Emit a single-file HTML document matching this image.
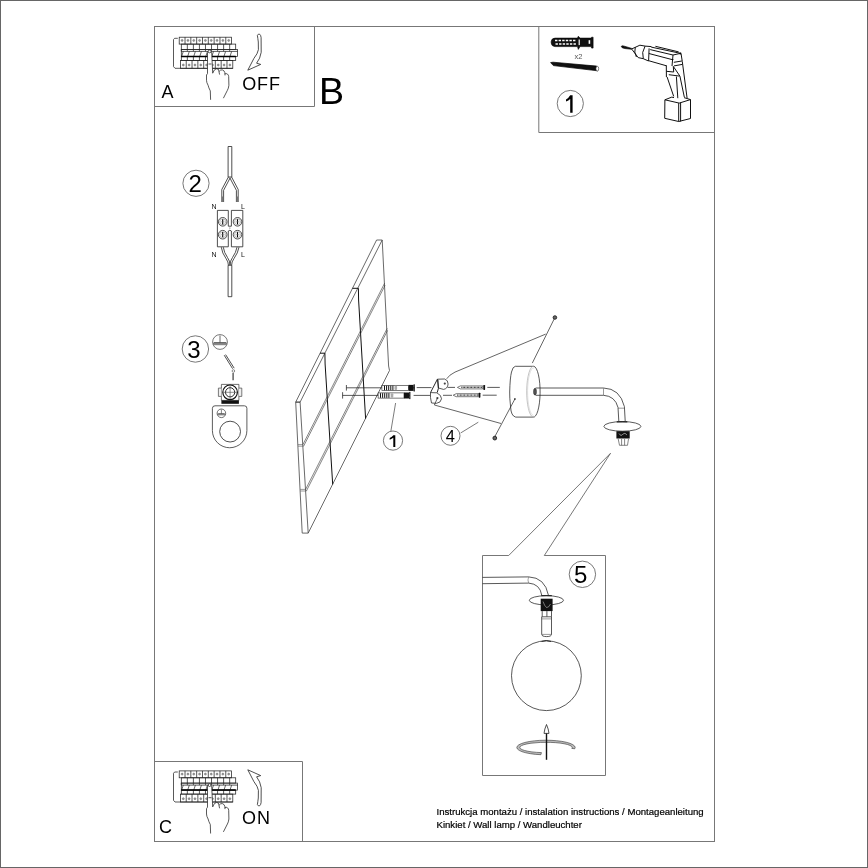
<!DOCTYPE html>
<html><head><meta charset="utf-8">
<style>
html,body{margin:0;padding:0;background:#fff;}
body{width:868px;height:868px;overflow:hidden;}
svg{display:block;font-family:"Liberation Sans",sans-serif;will-change:transform;-webkit-font-smoothing:antialiased;}
.f{fill:none;stroke:#777;stroke-width:1;}
.l{fill:none;stroke:#222;stroke-width:0.8;}
.g{fill:none;stroke:#555;stroke-width:0.8;}
.t{fill:#000;}
</style></head><body>
<svg width="868" height="868" viewBox="0 0 868 868">
<rect x="0.5" y="0.5" width="867" height="867" fill="#fff" stroke="#666" stroke-width="1"/>
<rect class="f" x="154.5" y="26.5" width="560" height="815"/>
<path class="f" d="M154.5 106.5H314.5V26.5"/>
<path class="f" d="M538.8 26.5V132.5H714.5"/>
<path class="f" d="M154.5 761.5H302.5V841.5"/>
<path class="f" d="M508.7 555.5H482.5V775.5H605.5V555.5H544.3"/>
<path class="g" d="M508.7 555.5L610.5 453.3L544.3 555.5"/>
<g fill="none" stroke="#222" stroke-width="0.75"><path d="M177.8 38.3H174.6L173.5 39.6V66.6L175 68.3H232.8"/><rect x="179.2" y="37.2" width="52.4" height="6.9"/><path d="M185.02 37.2V44.1M190.84 37.2V44.1M196.67 37.2V44.1M202.49 37.2V44.1M208.31 37.2V44.1M214.13 37.2V44.1M219.96 37.2V44.1M225.78 37.2V44.1"/><rect x="181.3" y="44.1" width="54.4" height="5.3"/><path d="M187.34 44.1V49.4M193.39 44.1V49.4M199.43 44.1V49.4M205.48 44.1V49.4M211.52 44.1V49.4M217.57 44.1V49.4M223.61 44.1V49.4M229.66 44.1V49.4"/><rect x="181.3" y="49.4" width="56.3" height="7"/><path d="M181.3 51.4H237.6"/><path d="M181.7 56.2L183.3 51.4M181.3 51.4V49.4M187.74 56.2L189.34 51.4M187.34 51.4V49.4M193.79 56.2L195.39 51.4M193.39 51.4V49.4M199.83 56.2L201.43 51.4M199.43 51.4V49.4M205.88 56.2L207.48 51.4M205.48 51.4V49.4M211.92 56.2L213.52 51.4M211.52 51.4V49.4M217.97 56.2L219.57 51.4M217.57 51.4V49.4M224.01 56.2L225.61 51.4M223.61 51.4V49.4M230.06 56.2L231.66 51.4M229.66 51.4V49.4" stroke-width="0.7"/><rect x="181.3" y="56.4" width="54.4" height="4"/><path d="M187.34 56.4V60.4M193.39 56.4V60.4M199.43 56.4V60.4M205.48 56.4V60.4M211.52 56.4V60.4M217.57 56.4V60.4M223.61 56.4V60.4M229.66 56.4V60.4"/><path d="M181.3 56.4H235.7" stroke="#000" stroke-width="1.5"/><rect x="180.4" y="60.4" width="52.4" height="7.9"/><path d="M186.22 60.4V68.3M192.04 60.4V68.3M197.87 60.4V68.3M203.69 60.4V68.3M209.51 60.4V68.3M215.33 60.4V68.3M221.16 60.4V68.3M226.98 60.4V68.3"/><g fill="#999" stroke="#666" stroke-width="0.5"><circle cx="182.11" cy="40.4" r="1"/><circle cx="183.31" cy="65" r="1"/><circle cx="187.93" cy="40.4" r="1"/><circle cx="189.13" cy="65" r="1"/><circle cx="193.76" cy="40.4" r="1"/><circle cx="194.96" cy="65" r="1"/><circle cx="199.58" cy="40.4" r="1"/><circle cx="200.78" cy="65" r="1"/><circle cx="205.4" cy="40.4" r="1"/><circle cx="206.6" cy="65" r="1"/><circle cx="211.22" cy="40.4" r="1"/><circle cx="212.42" cy="65" r="1"/><circle cx="217.04" cy="40.4" r="1"/><circle cx="218.24" cy="65" r="1"/><circle cx="222.87" cy="40.4" r="1"/><circle cx="224.07" cy="65" r="1"/><circle cx="228.69" cy="40.4" r="1"/><circle cx="229.89" cy="65" r="1"/></g><path d="M207.5 73.5L207.5 52.6Q209.6 49.6 211.7 52.6L212.7 73.2Q214 69.5 216.5 69.1Q218.7 69.3 219.3 74.2Q220.3 70.2 222.4 70.1Q224 70.6 224.6 75Q225.9 73.6 227 74Q228.6 74.6 228.7 76.5L228.9 85.3Q228.5 88.5 227.4 90.3L223.4 98.2L210.6 99.8L210.3 90.9Q208.6 87.6 208.1 85.3Q206.5 82.5 206.5 80.3L206.5 75Z" fill="#fff" stroke="none"/><path d="M207.5 73.5L207.5 52.6Q209.6 49.6 211.7 52.6L212.7 73.2L214.3 70Q216.5 67.8 218.5 69.4L219.6 74.6M219.2 71.4Q220.5 69.5 222.4 69.9Q224.3 70.5 224.8 72.5L225 75.4M224.9 73.9Q226.3 73.2 227.5 74.1Q228.6 75 228.7 76.6L228.9 85.3Q228.5 88.5 227.4 90.3L223.4 98.2M210.6 99.8L210.3 90.9Q208.6 87.6 208.1 85.3Q206.5 82.5 206.5 80.3L206.5 75L207.5 73.5M208.5 64H211.5"/><circle cx="209.6" cy="51.4" r="1.4" fill="#fff"/></g>
<g fill="none" stroke="#222" stroke-width="0.75" transform="translate(0 733.7)"><path d="M177.8 38.3H174.6L173.5 39.6V66.6L175 68.3H232.8"/><rect x="179.2" y="37.2" width="52.4" height="6.9"/><path d="M185.02 37.2V44.1M190.84 37.2V44.1M196.67 37.2V44.1M202.49 37.2V44.1M208.31 37.2V44.1M214.13 37.2V44.1M219.96 37.2V44.1M225.78 37.2V44.1"/><rect x="181.3" y="44.1" width="54.4" height="5.3"/><path d="M187.34 44.1V49.4M193.39 44.1V49.4M199.43 44.1V49.4M205.48 44.1V49.4M211.52 44.1V49.4M217.57 44.1V49.4M223.61 44.1V49.4M229.66 44.1V49.4"/><rect x="181.3" y="49.4" width="56.3" height="7"/><path d="M181.3 51.4H237.6"/><path d="M181.7 56.2L183.3 51.4M181.3 51.4V49.4M187.74 56.2L189.34 51.4M187.34 51.4V49.4M193.79 56.2L195.39 51.4M193.39 51.4V49.4M199.83 56.2L201.43 51.4M199.43 51.4V49.4M205.88 56.2L207.48 51.4M205.48 51.4V49.4M211.92 56.2L213.52 51.4M211.52 51.4V49.4M217.97 56.2L219.57 51.4M217.57 51.4V49.4M224.01 56.2L225.61 51.4M223.61 51.4V49.4M230.06 56.2L231.66 51.4M229.66 51.4V49.4" stroke-width="0.7"/><rect x="181.3" y="56.4" width="54.4" height="4"/><path d="M187.34 56.4V60.4M193.39 56.4V60.4M199.43 56.4V60.4M205.48 56.4V60.4M211.52 56.4V60.4M217.57 56.4V60.4M223.61 56.4V60.4M229.66 56.4V60.4"/><path d="M181.3 56.4H235.7" stroke="#000" stroke-width="1.5"/><rect x="180.4" y="60.4" width="52.4" height="7.9"/><path d="M186.22 60.4V68.3M192.04 60.4V68.3M197.87 60.4V68.3M203.69 60.4V68.3M209.51 60.4V68.3M215.33 60.4V68.3M221.16 60.4V68.3M226.98 60.4V68.3"/><g fill="#999" stroke="#666" stroke-width="0.5"><circle cx="182.11" cy="40.4" r="1"/><circle cx="183.31" cy="65" r="1"/><circle cx="187.93" cy="40.4" r="1"/><circle cx="189.13" cy="65" r="1"/><circle cx="193.76" cy="40.4" r="1"/><circle cx="194.96" cy="65" r="1"/><circle cx="199.58" cy="40.4" r="1"/><circle cx="200.78" cy="65" r="1"/><circle cx="205.4" cy="40.4" r="1"/><circle cx="206.6" cy="65" r="1"/><circle cx="211.22" cy="40.4" r="1"/><circle cx="212.42" cy="65" r="1"/><circle cx="217.04" cy="40.4" r="1"/><circle cx="218.24" cy="65" r="1"/><circle cx="222.87" cy="40.4" r="1"/><circle cx="224.07" cy="65" r="1"/><circle cx="228.69" cy="40.4" r="1"/><circle cx="229.89" cy="65" r="1"/></g><path d="M207.5 73.5L207.5 52.6Q209.6 49.6 211.7 52.6L212.7 73.2Q214 69.5 216.5 69.1Q218.7 69.3 219.3 74.2Q220.3 70.2 222.4 70.1Q224 70.6 224.6 75Q225.9 73.6 227 74Q228.6 74.6 228.7 76.5L228.9 85.3Q228.5 88.5 227.4 90.3L223.4 98.2L210.6 99.8L210.3 90.9Q208.6 87.6 208.1 85.3Q206.5 82.5 206.5 80.3L206.5 75Z" fill="#fff" stroke="none"/><path d="M207.5 73.5L207.5 52.6Q209.6 49.6 211.7 52.6L212.7 73.2L214.3 70Q216.5 67.8 218.5 69.4L219.6 74.6M219.2 71.4Q220.5 69.5 222.4 69.9Q224.3 70.5 224.8 72.5L225 75.4M224.9 73.9Q226.3 73.2 227.5 74.1Q228.6 75 228.7 76.6L228.9 85.3Q228.5 88.5 227.4 90.3L223.4 98.2M210.6 99.8L210.3 90.9Q208.6 87.6 208.1 85.3Q206.5 82.5 206.5 80.3L206.5 75L207.5 73.5M208.5 64H211.5"/><circle cx="209.6" cy="51.4" r="1.4" fill="#fff"/></g>
<g fill="#fff" stroke="#222" stroke-width="0.8"><path d="M257.4 35.4Q258.2 33.6 259.6 34.2Q260.8 35 261.1 37.5L261.2 52.3Q260.3 58.5 256.6 63.2L260.7 64.4L247.8 70.2L253.9 58.4Q257.8 53.5 258.4 49.7L258.3 42Q257.8 38 257.4 35.4Z"/><path transform="translate(0 840) scale(1 -1)" d="M257.4 35.4Q258.2 33.6 259.6 34.2Q260.8 35 261.1 37.5L261.2 52.3Q260.3 58.5 256.6 63.2L260.7 64.4L247.8 70.2L253.9 58.4Q257.8 53.5 258.4 49.7L258.3 42Q257.8 38 257.4 35.4Z"/></g>
<text class="t" x="161.4" y="97.8" font-size="18">A</text>
<text class="t" x="242.3" y="90.4" font-size="18" letter-spacing="0.8">OFF</text>
<text class="t" x="319" y="104" font-size="37.6">B</text>
<text class="t" x="159" y="832.8" font-size="18">C</text>
<text class="t" x="242" y="824.4" font-size="18" letter-spacing="1">ON</text>
<g class="g"><circle cx="570.3" cy="103.5" r="13.1"/><circle cx="196" cy="183.3" r="13.1"/><circle cx="195.4" cy="349" r="13.2"/><circle cx="582.4" cy="574.3" r="13.2"/><circle cx="393" cy="440.6" r="9.6"/><circle cx="450.5" cy="435.8" r="9.5"/></g>
<path class="t" d="M570.2 95.3H572.6V112.8H570.2V98.9Q568.6 100.6 566 101.6V99.4Q568.8 98 570.2 95.3Z"/>
<path class="t" d="M393.3 435.3H395.3V446.9H393.3V437.7Q392 438.9 389.7 439.7V438Q392.2 436.8 393.3 435.3Z"/>
<g class="t" font-size="24" text-anchor="middle"><text x="195.2" y="191.6">2</text><text x="193.9" y="357.7">3</text><text x="580.8" y="583.3">5</text></g>
<text class="t" x="450.3" y="442" font-size="16.5" text-anchor="middle">4</text>
<g class="t" font-size="9.6" stroke="#000" stroke-width="0.2"><text x="436.5" y="815">Instrukcja montażu / instalation instructions / Montageanleitung</text><text x="436.5" y="827.6">Kinkiet / Wall lamp / Wandleuchter</text></g>
<g><path d="M551.2 41.5Q551.5 38.3 555 38.1H577.5L578.3 36.2L580 38.1H591.2L591.6 37.2H593.1V48.1H591.6L591.2 46.6H580L578.3 49.4L577.5 46.6H555Q551.5 46.3 551.2 43Z" fill="#111" stroke="#000" stroke-width="0.6"/><path d="M555.0 40.5h2.4M555.5 44.1h2.4M558.6 40.5h2.4M559.1 44.1h2.4M562.2 40.5h2.4M562.7 44.1h2.4M565.8 40.5h2.4M566.3 44.1h2.4M569.4 40.5h2.4M569.9 44.1h2.4M573.0 40.5h2.4M573.5 44.1h2.4" stroke="#fff" stroke-width="1.5"/><rect x="578.6" y="39.5" width="1.2" height="5.6" fill="#fff"/><rect x="588.6" y="40.2" width="1.6" height="3.6" fill="#fff"/></g><text x="574.6" y="58.8" font-size="7.5" fill="#555">x2</text><path d="M550.6 62.6L553 62.2L596.8 66.1L597.6 70.8L553.4 65.6Z" fill="#111" stroke="#000" stroke-width="0.7"/><ellipse cx="597.3" cy="68.7" rx="1.4" ry="2.4" fill="#fff" stroke="#333" stroke-width="0.6"/><path d="M621.2 46.4Q622 45.2 624.5 46.2L631.8 48.4L631.6 49.3L624.5 48.5Q621.5 48 621.2 46.4Z" fill="#111" stroke="#000" stroke-width="0.6"/><path d="M631.8 48.9L639.9 45.2L645.1 46.1L651.4 46.6M631.8 49.2L638.2 57.6L643.3 58.7L648.5 61M635.3 47.2Q633.8 52 636.4 57M645.1 46.1Q641.2 52.4 643.3 58.7M649.1 48.4L648.6 61M651.2 47.1L680.8 53.4M655.4 46.3L678.7 51.9M650.2 49.6L673 55L680.8 53.3M648.9 53.5L672.5 59.7M648.6 60.7L666.8 65.9M673 55L672 66M681.1 54L682.3 61.6L687.1 98.2M673.8 62.3L681.9 61M674 65.9L682.3 64.4M666.3 65.7L666.4 77M666.4 71.3L673.7 72L673.3 66.4M668.8 74.7L679.6 76.1M667.1 77L673.7 96.4M676.4 76.5L677.8 98.2M673.3 66.4L679.9 76.1L684.3 97M664.9 99.8L664.7 118.3L678.7 121.5L690.5 118.5L690.5 99.6L679.2 103.1ZM664.9 99.8L671.8 97.1L674 97.6M684 97.6L690.5 99.6M678.7 103.1V121.5M680.6 102.6V121.5" fill="none" stroke="#111" stroke-width="1"/><circle cx="680.4" cy="53.5" r="1.1" fill="#000"/><circle cx="672.8" cy="59.6" r="0.7" fill="#000"/>
<path d="M228.1 146.5H231.8V177H228.1Z" fill="none" stroke="#222" stroke-width="0.8"/><path d="M228.4 177L221.8 189.5V202M230.2 177.8L223.6 190.3V202" fill="none" stroke="#222" stroke-width="0.8"/><path d="M231.6 177L238.2 189.5V202M229.8 177.8L236.4 190.3V202" fill="none" stroke="#222" stroke-width="0.8"/><path d="M222.6 196.5V202M237.3 196.5V202" stroke="#777" stroke-width="1.4"/><g font-size="7" fill="#111"><text x="211.6" y="208.6">N</text><text x="240.9" y="208.6">L</text><text x="211.6" y="256.9">N</text><text x="240.9" y="256.9">L</text></g><path d="M217.4 210.4H228.3V226.2H231.4V210.4H242.8V246.8H231.4V231Q229.85 229.5 228.3 231V246.8H217.4Z" fill="none" stroke="#222" stroke-width="0.8"/><circle cx="229.85" cy="228.1" r="0.5" fill="#333"/><circle cx="222.7" cy="221.8" r="4.3" fill="#fff" stroke="#222" stroke-width="0.8"/><circle cx="222.7" cy="221.8" r="3" fill="none" stroke="#777" stroke-width="0.5"/><path d="M222.7 219.20000000000002V224.4" stroke="#000" stroke-width="1.1"/><path d="M220.7 221.8H224.7" stroke="#777" stroke-width="0.5"/><circle cx="222.7" cy="234.7" r="4.3" fill="#fff" stroke="#222" stroke-width="0.8"/><circle cx="222.7" cy="234.7" r="3" fill="none" stroke="#777" stroke-width="0.5"/><path d="M222.7 232.1V237.29999999999998" stroke="#000" stroke-width="1.1"/><path d="M220.7 234.7H224.7" stroke="#777" stroke-width="0.5"/><circle cx="237.5" cy="221.8" r="4.3" fill="#fff" stroke="#222" stroke-width="0.8"/><circle cx="237.5" cy="221.8" r="3" fill="none" stroke="#777" stroke-width="0.5"/><path d="M237.5 219.20000000000002V224.4" stroke="#000" stroke-width="1.1"/><path d="M235.5 221.8H239.5" stroke="#777" stroke-width="0.5"/><circle cx="237.5" cy="234.7" r="4.3" fill="#fff" stroke="#222" stroke-width="0.8"/><circle cx="237.5" cy="234.7" r="3" fill="none" stroke="#777" stroke-width="0.5"/><path d="M237.5 232.1V237.29999999999998" stroke="#000" stroke-width="1.1"/><path d="M235.5 234.7H239.5" stroke="#777" stroke-width="0.5"/><path d="M221.3 247.2Q222 253 226 258.5Q228.5 262 228.4 265.3M223.3 247.2Q224 252.5 227.5 257.5Q230 261 230 265" fill="none" stroke="#222" stroke-width="0.8"/><path d="M239 247.2Q238 253 234 258.5Q231.5 262 231.6 265.3M237 247.2Q236 252.5 232.5 257.5Q230 261 230 265" fill="none" stroke="#222" stroke-width="0.8"/><path d="M228.1 265.3H231.8V296.7H228.1Z" fill="none" stroke="#222" stroke-width="0.8"/><clipPath id="gc"><circle cx="220" cy="342" r="7.3"/></clipPath><rect x="212" y="342.6" width="16" height="2.6" fill="#888" clip-path="url(#gc)"/><circle cx="220" cy="342" r="7.4" fill="none" stroke="#555" stroke-width="0.8"/><path d="M220 335.5V342.6M214 342.6H226" stroke="#444" stroke-width="0.8"/><path d="M224.2 355.2L232.6 368.7M225.6 354.6L234.2 368.2" fill="none" stroke="#222" stroke-width="0.8"/><circle cx="233.4" cy="371" r="1.3" fill="#fff" stroke="#444" stroke-width="0.6"/><path d="M233.1 373V380.3" stroke="#555" stroke-width="1.4"/><path d="M221.4 384.4H238.9V400.4H221.4Z" fill="#fff" stroke="#333" stroke-width="0.7"/><path d="M221.4 388.1H218.4V396.4H221.4M238.9 388.1H241.8V396.4H238.9" fill="#eee" stroke="#444" stroke-width="0.7"/><circle cx="230.1" cy="392.3" r="7.3" fill="#fff" stroke="#111" stroke-width="1.2"/><circle cx="230.1" cy="392.3" r="4.6" fill="none" stroke="#111" stroke-width="0.9"/><path d="M230.1 385.6V399M223.4 392.3H236.8" stroke="#444" stroke-width="0.6"/><rect x="221.4" y="400.4" width="17.5" height="3.4" fill="#111"/><path d="M212.4 408.3Q212.4 405.8 215 405.8H244.4Q246.9 405.8 246.9 408.3V430.5A17.25 17.25 0 0 1 212.4 430.5Z" fill="#fff" stroke="#333" stroke-width="0.8"/><circle cx="230.1" cy="431.6" r="10.4" fill="#fff" stroke="#222" stroke-width="0.8"/><clipPath id="gc2"><circle cx="221.4" cy="413.3" r="4.2"/></clipPath><rect x="216" y="413.6" width="11" height="1.8" fill="#888" clip-path="url(#gc2)"/><circle cx="221.4" cy="413.3" r="4.3" fill="none" stroke="#333" stroke-width="0.7"/><path d="M221.4 409.5V413.6M218.2 413.6H224.6" stroke="#333" stroke-width="0.6"/>
<path d="M376.6 240H382.2L388.6 366L389.5 370.5L308.2 533.1H302.2L295.7 402.1L376.6 240Z" fill="#fff" stroke="#444" stroke-width="0.8"/><path d="M382.2 240L300.1 402.1L308.2 533.1" fill="none" stroke="#444" stroke-width="0.8"/><path d="M352.4 288.3H358.4M320 353.2H324.9M295.7 402.1H300.1" fill="none" stroke="#111" stroke-width="1"/><path d="M358.4 288.3L358.6 300L365.6 418.6M324.9 353.2L325.1 364L332.7 484.4" fill="none" stroke="#111" stroke-width="1"/><path d="M384.6 283.2L302.9 444.6M385.1 285.2L303.6 446.2M387.2 328.4L305.6 489.4M387.6 330.4L306.4 491" fill="none" stroke="#333" stroke-width="0.6"/><path d="M297.9 444.6H302.9M298 446.2H303.6M300.2 489.4H305.6M300.3 491H306.4" fill="none" stroke="#555" stroke-width="0.6"/><path d="M346.4 387.8H414.8M346.4 385V390.6M342.6 395.4H409.8M342.6 392.2V398.6" fill="none" stroke="#222" stroke-width="0.75"/><path d="M416.7 387.6H431.5M413.6 395.4H430" fill="none" stroke="#222" stroke-width="0.75"/><rect x="381.9" y="385.29999999999995" width="26.600000000000023" height="5.2" fill="#fff" stroke="#222" stroke-width="0.6"/><path d="M384.5 385.6V390.2M386.6 385.6V390.2M388.7 385.6V390.2M390.8 385.6V390.2M392.9 385.6V390.2" stroke="#111" stroke-width="1"/><rect x="394.5" y="385.7" width="2.6" height="4.4" rx="1" fill="#aaa"/><rect x="408.5" y="384.9" width="5.100000000000011" height="6" fill="#111"/><rect x="413.6" y="384.29999999999995" width="1.2" height="7.2" fill="#111"/><rect x="378.1" y="392.9" width="25.899999999999977" height="5.2" fill="#fff" stroke="#222" stroke-width="0.6"/><path d="M380.5 393.2V397.8M382.6 393.2V397.8M384.7 393.2V397.8M386.8 393.2V397.8M388.9 393.2V397.8" stroke="#111" stroke-width="1"/><rect x="390.7" y="393.3" width="2.6" height="4.4" rx="1" fill="#aaa"/><rect x="404.0" y="392.5" width="5.199999999999977" height="6" fill="#111"/><rect x="409.2" y="391.9" width="1.2" height="7.2" fill="#111"/><path d="M395.6 403L390.9 431" fill="none" stroke="#444" stroke-width="0.7"/><path d="M437.4 379.2L444.6 379Q448.2 380 448.1 384Q447.6 388.8 443.5 389.4L438.4 388Z" fill="#fff" stroke="#222" stroke-width="0.75"/><path d="M430.5 392.6L436.8 392.8Q441.6 395.2 441.5 398.8Q441 402.8 436.5 403.3L431.5 403L430.5 397.6Z" fill="#fff" stroke="#222" stroke-width="0.75"/><path d="M437.4 379.2L430.5 392.6M437.9 379.7L438.4 388.4L437.2 392.6" fill="none" stroke="#111" stroke-width="0.9"/><circle cx="444.8" cy="383.6" r="1.1" fill="#444"/><circle cx="437.4" cy="398.1" r="1.1" fill="#444"/><path d="M447.6 387.4H455M443 395.3H452" fill="none" stroke="#222" stroke-width="0.75"/><path d="M457.4 387.4L460.4 385.9H482.8V388.9H460.4Z" fill="#fff" stroke="#222" stroke-width="0.6"/><path d="M461.4 387.4H482.3" stroke="#222" stroke-width="1.2" stroke-dasharray="0.8 0.6"/><rect x="483.3" y="384.9" width="1.8" height="5" rx="0.6" fill="#111"/><path d="M453.2 395.2L456.2 393.7H478.1V396.7H456.2Z" fill="#fff" stroke="#222" stroke-width="0.6"/><path d="M457.2 395.2H477.6" stroke="#222" stroke-width="1.2" stroke-dasharray="0.8 0.6"/><rect x="478.6" y="392.7" width="1.8" height="5" rx="0.6" fill="#111"/><path d="M487.3 387.4H499.8M482.7 395.2H496.7" fill="none" stroke="#222" stroke-width="0.75"/><path d="M515.3 366.3H533.9A6.6 25.4 0 0 1 533.1 417.1H515.7Q511 416 510.6 407Q509.5 397 509.7 392Q510 378 511.5 372Q512.8 366.5 515.3 366.3Z" fill="#fff" stroke="#222" stroke-width="0.75"/><path d="M533.9 366.3A6.8 25.4 0 0 0 533.1 417.1" fill="none" stroke="#aaa" stroke-width="0.7"/><path d="M533.9 368A6 23.5 0 0 0 533.4 415.5" fill="none" stroke="#ccc" stroke-width="0.6"/><circle cx="514.9" cy="399" r="0.9" fill="#444"/><path d="M446.7 378.8Q449 375 455 372.1L545.7 334.1M434.4 405L501 423.5M554.9 317.5L532.3 363.1M514.9 399L493.8 438.5" fill="none" stroke="#222" stroke-width="0.7"/><path d="M437.4 398.1L434.4 405" fill="none" stroke="#222" stroke-width="0.7"/><circle cx="554.9" cy="317.5" r="1.8" fill="#666" stroke="#111" stroke-width="0.8"/><circle cx="494.8" cy="438.1" r="1.9" fill="#666" stroke="#111" stroke-width="0.8"/><path d="M478.3 422.2L460.6 433" fill="none" stroke="#444" stroke-width="0.7"/><path d="M535.6 388H603.5Q620 388.5 624.4 406.6L625.2 421M535.6 395.3H603.5Q615 396 618 407.4L618.8 421" fill="none" stroke="#222" stroke-width="0.75"/><path d="M603.5 388.3V395.2M618 408.2H624.5" fill="none" stroke="#555" stroke-width="0.6"/><ellipse cx="535" cy="391.7" rx="1.4" ry="3.4" fill="#555" stroke="#222" stroke-width="0.6"/><ellipse cx="622.4" cy="426.4" rx="18.5" ry="4.8" fill="#fff" stroke="#222" stroke-width="0.75"/><path d="M616.8 421.8H627.3" stroke="#222" stroke-width="1.3"/><rect x="616.4" y="431.2" width="13.3" height="7.3" fill="#111"/><path d="M619 433.5Q621 437 623 434Q625 432 627 435" stroke="#fff" stroke-width="0.5" fill="none"/><path d="M618.2 438.9L619.5 445.3H627.5L628.5 438.9M621.6 439V445.3M624.6 439V445.3" fill="#fff" stroke="#333" stroke-width="0.6"/>
<path d="M482.5 577.4L528.7 576.9Q545 577.5 548.4 595.1M482.5 583.7L528.7 583.1Q540 584 541.7 595.1" fill="none" stroke="#222" stroke-width="0.75"/><path d="M528.7 576.9Q527.2 580 528.7 583.1" fill="none" stroke="#666" stroke-width="0.6"/><ellipse cx="546.4" cy="600.3" rx="17.1" ry="4.6" fill="#fff" stroke="#222" stroke-width="0.75"/><path d="M541.2 595.6H551.8" stroke="#222" stroke-width="1.1"/><rect x="540.7" y="598.7" width="11.9" height="12.4" fill="#111"/><path d="M543 601.5Q544.5 606 546.5 607.5Q548.5 608 550.5 604" stroke="#ddd" stroke-width="0.5" fill="none"/><path d="M542.2 611.1V616.8M551.5 611.1V616.8M546.9 611.1V616.8" fill="none" stroke="#222" stroke-width="0.75"/><path d="M541.7 616.8H551.5V634.2Q551.5 636.6 546.6 636.6Q541.7 636.6 541.7 634.2Z" fill="#fff" stroke="#222" stroke-width="0.75"/><path d="M541.7 618.9H551.5M542 634.4H551.2" fill="none" stroke="#555" stroke-width="0.6"/><circle cx="546.4" cy="675.7" r="34.9" fill="#fff" stroke="#222" stroke-width="0.75"/><path d="M541.5 641.4Q546.2 639.8 551 641.4" stroke="#222" stroke-width="1" fill="none"/><path d="M546.5 724.5Q548.5 729 549 733.4H544Q544.5 729 546.5 724.5Z" fill="#fff" stroke="#222" stroke-width="0.8"/><path d="M540.9 754.7A29.2 7.3 0 1 1 574.76 748.77L571.8 748.4A26.2 5.2 0 1 0 541.45 752.62Z" fill="#bbb" stroke="#333" stroke-width="0.6"/><path d="M546.5 733.4V759.8" stroke="#111" stroke-width="1.4"/>

</svg>
</body></html>
